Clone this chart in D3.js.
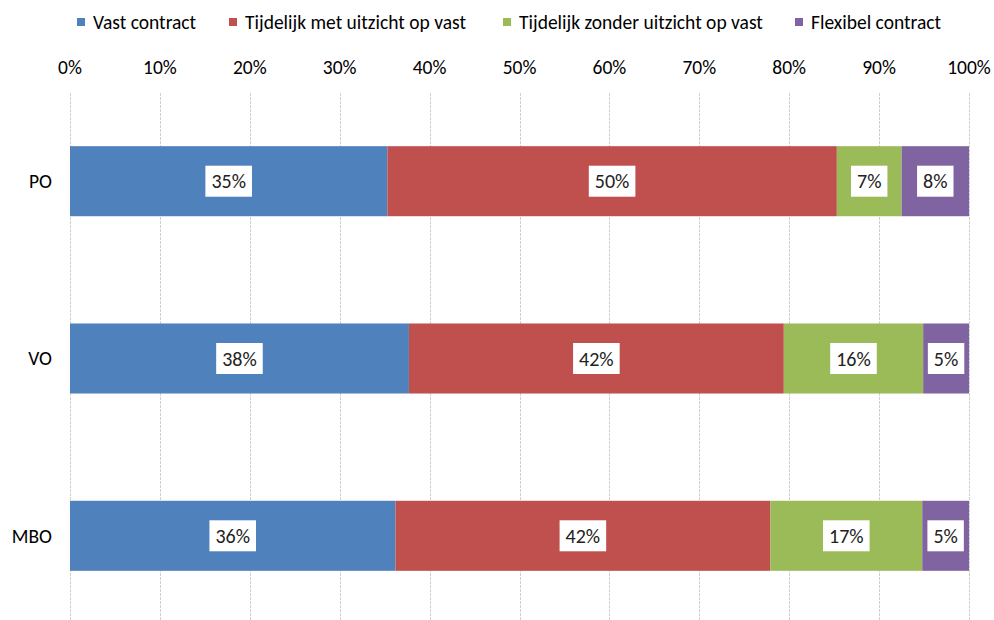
<!DOCTYPE html>
<meta charset="utf-8">
<head>
<style>
body { margin: 0; background: #fff; }
svg { font-family: Calibri, Carlito, Lato, sans-serif; }
.grid line { stroke: #d0d0d0; stroke-dasharray: 3,1; }
.axis text { fill: #000; }
</style>
</head>
<body>
<script src="https://cdn.jsdelivr.net/npm/d3@7"></script>
<svg id="chart" width="994" height="620"></svg>
<script>

var categories = ["PO", "VO", "MBO"];
var seriesNames = ["Vast contract", "Tijdelijk met uitzicht op vast", "Tijdelijk zonder uitzicht op vast", "Flexibel contract"];
var vast      = [35.3, 37.7, 36.2];
var metUitz   = [50.0, 41.7, 41.7];
var zonderUitz= [7.2, 15.5, 16.9];
var flexibel  = [7.5, 5.1, 5.2];
var tickValues = [0, 10, 20, 30, 40, 50, 60, 70, 80, 90, 100];
var colors = ["#4F81BD", "#C0504D", "#9BBB59", "#8064A2"];

var rows = categories.map(function(c, i) {
  var r = {cat: c};
  r[seriesNames[0]] = vast[i];
  r[seriesNames[1]] = metUitz[i];
  r[seriesNames[2]] = zonderUitz[i];
  r[seriesNames[3]] = flexibel[i];
  return r;
});

var svg = d3.select("#chart"),
    margin = {top: 93, right: 25, bottom: -4, left: 70},
    width = +svg.attr("width") - margin.left - margin.right,
    height = +svg.attr("height") - margin.top - margin.bottom,
    g = svg.append("g").attr("transform", "translate(" + margin.left + "," + margin.top + ")");

var x = d3.scaleLinear().domain([0, 100]).range([0, width]);
var y = d3.scaleBand().domain(categories).range([0, height])
    .paddingInner(0.605).paddingOuter(0.3);
var z = d3.scaleOrdinal().domain(seriesNames).range(colors);

// gridlines
g.append("g").attr("class", "grid")
  .selectAll("line").data(tickValues).enter().append("line")
    .attr("x1", function(d) { return Math.round(x(d)) + 0.5; })
    .attr("x2", function(d) { return Math.round(x(d)) + 0.5; })
    .attr("y1", 0).attr("y2", height);

// top axis labels
g.append("g").attr("class", "axis")
  .selectAll("text").data(tickValues).enter().append("text")
    .attr("x", function(d) { return x(d); })
    .attr("y", -19)
    .attr("text-anchor", "middle")
    .style("font-size", "19.5px")
    .text(function(d) { return d + "%"; });

// category labels
g.append("g").attr("class", "axis")
  .selectAll("text").data(categories).enter().append("text")
    .attr("x", -18)
    .attr("y", function(d) { return y(d) + y.bandwidth() / 2; })
    .attr("dy", "0.35em")
    .attr("text-anchor", "end")
    .style("font-size", "19.5px")
    .text(function(d) { return d; });

var stacked = d3.stack().keys(seriesNames)(rows);

var serie = g.selectAll(".serie").data(stacked).enter().append("g")
    .attr("class", "serie")
    .attr("fill", function(d) { return z(d.key); });

serie.selectAll("rect").data(function(d) { return d; }).enter().append("rect")
    .attr("x", function(d) { return x(d[0]); })
    .attr("y", function(d) { return y(d.data.cat); })
    .attr("width", function(d) { return x(d[1]) - x(d[0]); })
    .attr("height", y.bandwidth());

// value labels with white boxes
var lab = serie.selectAll(".lab").data(function(d) { return d; }).enter().append("g")
    .attr("class", "lab")
    .attr("transform", function(d) {
      return "translate(" + x((d[0] + d[1]) / 2) + "," + (y(d.data.cat) + y.bandwidth() / 2) + ")";
    });

lab.each(function(d) {
  var el = d3.select(this);
  var t = el.append("text")
      .attr("text-anchor", "middle")
      .attr("dy", "0.35em")
      .attr("fill", "#222")
      .style("font-size", "20px")
      .text(Math.round(d[1] - d[0]) + "%");
  var w = t.node().getComputedTextLength();
  el.insert("rect", "text")
      .attr("x", -w / 2 - 6)
      .attr("y", -15.5)
      .attr("width", w + 12)
      .attr("height", 31)
      .attr("fill", "#fff");
});

// legend
var legendX = [77, 229, 503, 795];
var legend = svg.selectAll(".legend").data(seriesNames).enter().append("g")
    .attr("class", "legend")
    .attr("transform", function(d, i) { return "translate(" + legendX[i] + ",22)"; });

legend.append("rect")
    .attr("x", 0).attr("y", -4)
    .attr("width", 8).attr("height", 8)
    .attr("fill", z);

legend.append("text")
    .attr("x", 16)
    .attr("dy", "0.35em")
    .style("font-size", "19.5px")
    .text(function(d) { return d; });

</script>
</body>
</html>
